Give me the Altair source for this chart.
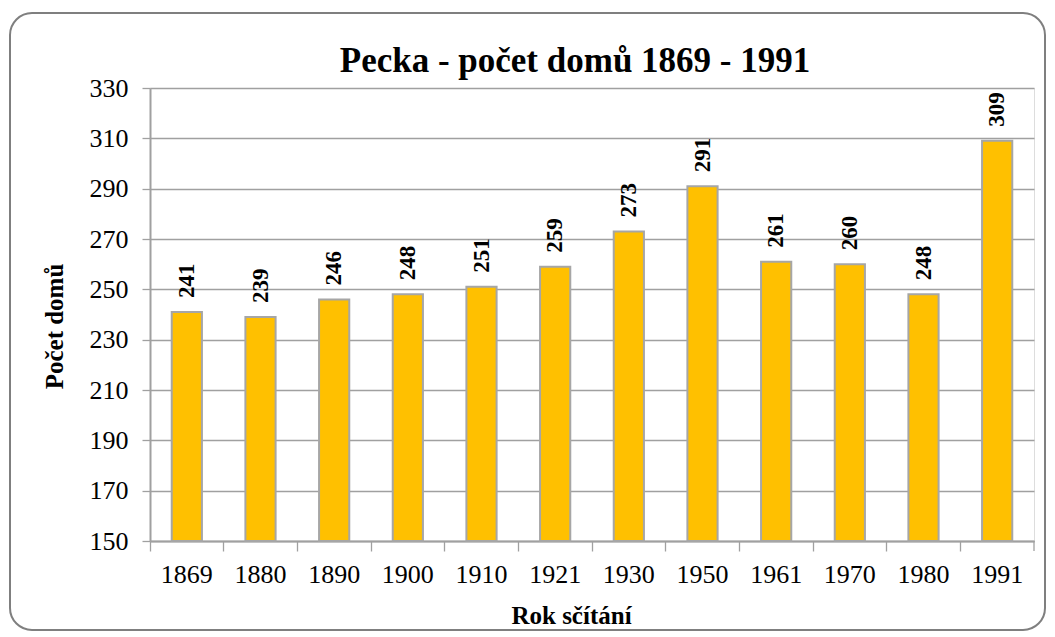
import altair as alt
import pandas as pd

years = ["1869", "1880", "1890", "1900", "1910", "1921", "1930", "1950", "1961", "1970", "1980", "1991"]
houses = [241, 239, 246, 248, 251, 259, 273, 291, 261, 260, 248, 309]
y_ticks = [150, 170, 190, 210, 230, 250, 270, 290, 310, 330]

df = pd.DataFrame({"rok": years, "domy": houses})
one = pd.DataFrame({"a": [0]})

FONT = "Liberation Serif"
W, H = 884, 453
GRID = "#a0a0a0"

xscale = alt.Scale(paddingInner=0, paddingOuter=0)
yscale = alt.Scale(domain=[150, 330], nice=False, zero=False)

y_axis = alt.Axis(
    values=y_ticks, title="Počet domů", grid=True, gridColor=GRID, gridWidth=1.3,
    domainColor=GRID, domainWidth=2, tickColor=GRID, tickWidth=1.3, tickSize=8,
    labelPadding=14, labelFont=FONT, labelFontSize=26, labelColor="black",
    titleFont=FONT, titleFontSize=25, titleFontWeight="bold", titleColor="black",
    titleAngle=270, titleX=-96, titleY=238, titleAlign="center", titleBaseline="middle",
)

bars = alt.Chart(df).mark_bar(
    color="#FFC000", stroke="#a6a6a6", strokeWidth=2, width=alt.RelativeBandSize(0.41)
).encode(
    x=alt.X("rok:N", sort=years, scale=xscale,
            axis=alt.Axis(orient="bottom", bandPosition=0, labels=False, ticks=True, tickSize=10,
                          tickColor=GRID, tickWidth=1.3, domainColor=GRID, domainWidth=2,
                          grid=False, title=None)),
    y=alt.Y("domy:Q", scale=yscale, axis=y_axis),
    y2=alt.datum(150),
)

labels = alt.Chart(df).mark_text(
    angle=270, align="left", baseline="middle", dx=14,
    font=FONT, fontSize=23, fontWeight="bold", color="black",
).encode(
    x=alt.X("rok:N", sort=years, scale=xscale,
            axis=alt.Axis(orient="bottom", labels=True, ticks=False, domain=False, grid=False,
                          labelAngle=0, labelFont=FONT, labelFontSize=26, labelColor="black",
                          labelBaseline="alphabetic", labelPadding=41,
                          title="Rok sčítání", titleFont=FONT, titleFontSize=25,
                          titleFontWeight="bold", titleColor="black",
                          titleX=421, titleY=82, titleBaseline="alphabetic", titleAlign="center")),
    y=alt.Y("domy:Q", scale=yscale, axis=y_axis),
    text=alt.Text("domy:Q"),
)

end_tick = alt.Chart(one).mark_rule(color=GRID, strokeWidth=1.3).encode(
    x=alt.value(W), y=alt.value(H), y2=alt.value(H + 10)
)

border = alt.Chart(one).mark_rect(
    fill="transparent", stroke="#7f7f7f", strokeWidth=2, cornerRadius=22
).encode(
    x=alt.value(-140), x2=alt.value(895), y=alt.value(-75), y2=alt.value(542)
)

chart = alt.layer(bars, labels, end_tick, border).resolve_axis(x="independent").properties(
    width=W, height=H,
    autosize="none",
    padding={"left": 142, "top": 80, "right": 13, "bottom": 92},
    title=alt.TitleParams(
        "Pecka - počet domů 1869 - 1991", font=FONT, fontSize=35, fontWeight="bold",
        color="black", anchor="middle", baseline="alphabetic", offset=0, dy=95, dx=-17,
    ),
).configure_view(fill="#f2f2f2", strokeWidth=0).configure(background="white")

chart.save("out.html", embed_options={"renderer": "svg", "actions": False})
